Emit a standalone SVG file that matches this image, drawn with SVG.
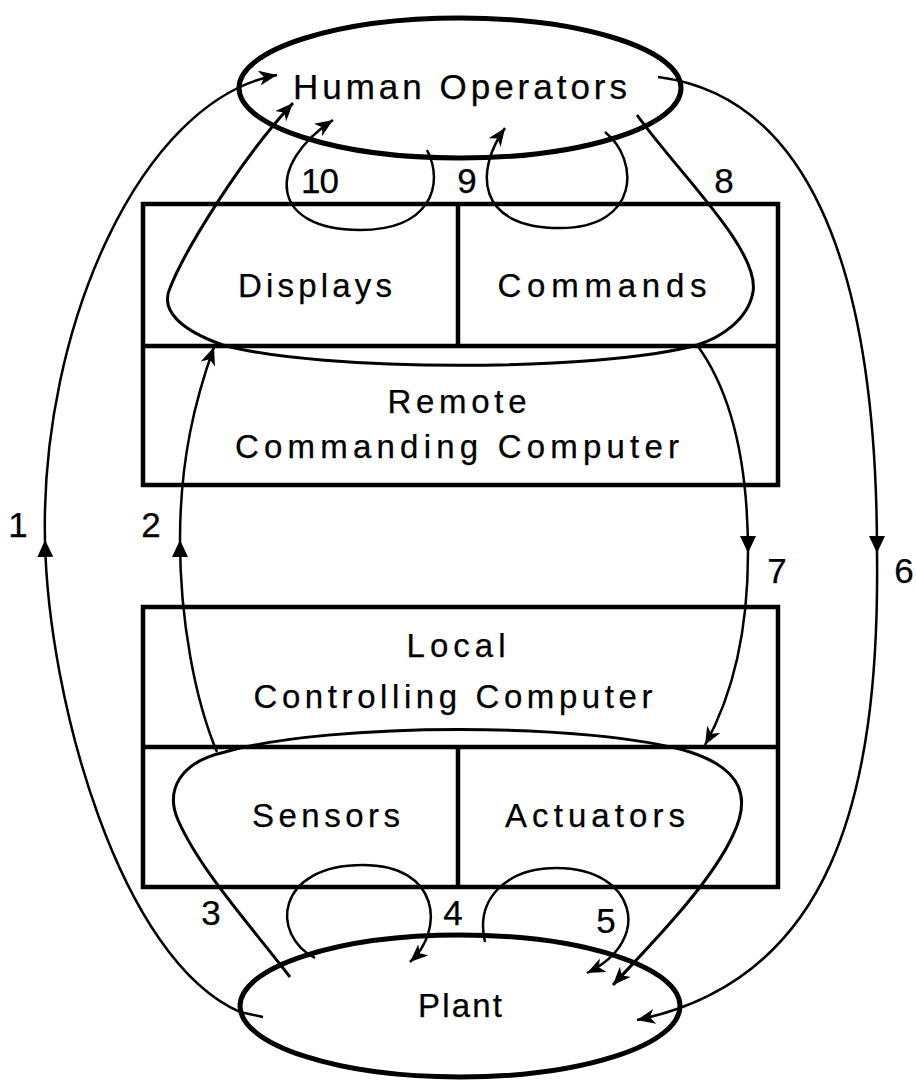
<svg xmlns="http://www.w3.org/2000/svg" width="916" height="1080" viewBox="0 0 916 1080">
<style>
.t{font-family:"Liberation Sans",Arial,sans-serif;fill:#000;text-anchor:middle;stroke:#000;stroke-width:0.25}
.lbl{font-size:33px}
.ho{font-size:35px}
.num{font-size:35px}
.box{fill:none;stroke:#000;stroke-width:4.5}
.oval{fill:none;stroke:#000;stroke-width:5}
.blob{fill:none;stroke:#000;stroke-width:3}
.ln{fill:none;stroke:#000;stroke-width:2.5}
.ah{marker-end:url(#barb)}
.am{marker-end:url(#tri)}
</style>
<defs>
<marker id="barb" markerUnits="userSpaceOnUse" markerWidth="22" markerHeight="18" refX="18" refY="7.5" orient="auto" viewBox="0 0 22 18">
<path d="M0,0 L18,7.5 L0,15 L5,7.5 z" fill="#000"/>
</marker>
<marker id="tri" markerUnits="userSpaceOnUse" markerWidth="20" markerHeight="18" refX="17" refY="8" orient="auto" viewBox="0 0 20 18">
<path d="M0,0 L17,8 L0,16 z" fill="#000"/>
</marker>
</defs>
<rect width="916" height="1080" fill="#fff"/>

<g id="human-operators">
<ellipse class="oval" cx="460" cy="88" rx="221" ry="70"/>
<text class="t ho" x="460" y="99" textLength="334" lengthAdjust="spacing">Human Operators</text>
</g>

<g id="remote-computer">
<rect class="box" x="143" y="204" width="635" height="281"/>
<line class="box" x1="143" y1="346" x2="778" y2="346"/>
<line class="box" x1="458" y1="204" x2="458" y2="346"/>
<text class="t lbl" x="315" y="297" textLength="154" lengthAdjust="spacing">Displays</text>
<text class="t lbl" x="602" y="297" textLength="209" lengthAdjust="spacing">Commands</text>
<text class="t lbl" x="457" y="413" textLength="139" lengthAdjust="spacing">Remote</text>
<text class="t lbl" x="457" y="458" textLength="444" lengthAdjust="spacing">Commanding Computer</text>
</g>

<g id="local-computer">
<rect class="box" x="143" y="607" width="635" height="280"/>
<line class="box" x1="143" y1="747" x2="778" y2="747"/>
<line class="box" x1="458" y1="747" x2="458" y2="887"/>
<text class="t lbl" x="456" y="657" textLength="99" lengthAdjust="spacing">Local</text>
<text class="t lbl" x="453" y="708" textLength="399" lengthAdjust="spacing">Controlling Computer</text>
<text class="t lbl" x="326" y="827" textLength="148" lengthAdjust="spacing">Sensors</text>
<text class="t lbl" x="595" y="827" textLength="180" lengthAdjust="spacing">Actuators</text>
</g>

<g id="plant">
<ellipse class="oval" cx="460" cy="1006" rx="220" ry="71"/>
<text class="t lbl" x="460" y="1017" textLength="84" lengthAdjust="spacing">Plant</text>
</g>

<g id="connectors">
<path class="ln am" d="M263,1017 L240,1012 C120,960 48,700 45,540"/>
<path class="ln ah" d="M45,540 C40,330 140,100 277,75"/>
<path class="ln am" d="M217,752 C195,700 180,620 180,540"/>
<path class="ln ah" d="M180,540 C180,460 195,400 214,347"/>
<path class="blob ah" d="M637,115 C680,175 760,250 753,292 C748,320 720,338 697,345 C600,372 320,372 223,345 C180,330 160,310 170,288 C185,250 240,160 293,103"/>
<path class="ln am" d="M697,345 C730,390 748,460 748,553"/>
<path class="ln ah" d="M748,553 C748,640 730,700 705,745"/>
<path class="ln am" d="M658,77 C800,95 877,250 877,553"/>
<path class="ln ah" d="M877,553 C880,800 830,980 637,1020"/>
<path class="blob ah" d="M290,977 C250,925 200,870 178,820 C165,790 180,762 225,752 C330,722 590,722 690,752 C745,770 750,800 733,835 C710,885 650,945 613,985"/>
<path class="ln ah" d="M427,150 C445,185 430,230 360,230 C270,230 265,165 333,120"/>
<path class="ln ah" d="M605,132 C640,160 640,228 560,228 C475,228 475,170 505,128"/>
<path class="ln ah" d="M315,958 C270,935 275,865 363,865 C440,865 445,930 410,962"/>
<path class="ln ah" d="M485,942 C475,900 505,868 557,868 C635,868 655,940 587,973"/>
</g>

<g id="labels">
<text class="t num" x="18" y="537">1</text>
<text class="t num" x="151" y="537">2</text>
<text class="t num" x="211" y="925">3</text>
<text class="t num" x="453" y="925">4</text>
<text class="t num" x="606" y="933">5</text>
<text class="t num" x="904" y="583">6</text>
<text class="t num" x="777" y="583">7</text>
<text class="t num" x="724" y="193">8</text>
<text class="t num" x="467" y="193">9</text>
<text class="t num" x="320" y="193" textLength="38" lengthAdjust="spacing">10</text>
</g>
</svg>
